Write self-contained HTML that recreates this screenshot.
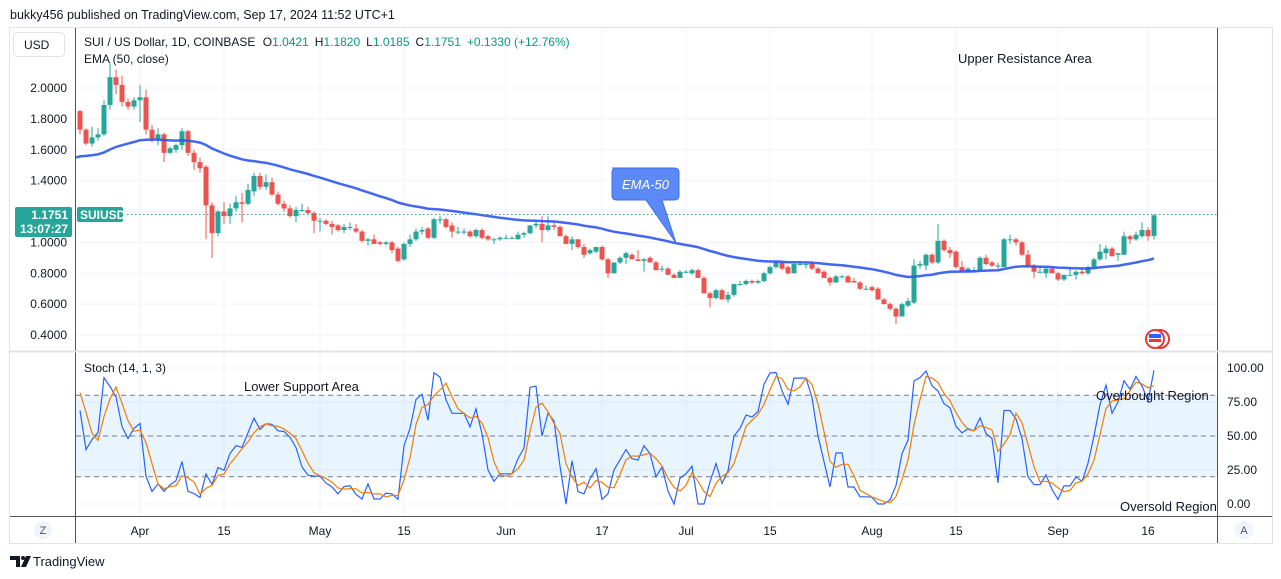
<!DOCTYPE html>
<html><head><meta charset="utf-8">
<style>
html,body{margin:0;padding:0;background:#fff;}
svg{display:block;font-family:"Liberation Sans",sans-serif;}
</style></head>
<body>
<svg id="chart" width="1281" height="579" viewBox="0 0 1281 579" xmlns="http://www.w3.org/2000/svg">
  <text x="10" y="19" font-size="12.5" fill="#131722">bukky456 published on TradingView.com, Sep 17, 2024 11:52 UTC+1</text>
  <rect x="9.5" y="27.5" width="1263" height="516" fill="#fff" stroke="#e0e3eb"/>
  <g id="grid"></g>
  <rect id="stochBand" fill="#2196f3" fill-opacity="0.1"/>
  <g id="stochLevels"></g>
  <g id="candles"></g>
  <path id="ema" fill="none" stroke="#2e57f0" stroke-width="2.5" stroke-opacity="0.9"/>
  <path id="stochK" fill="none" stroke="#2962ff" stroke-width="1.2"/>
  <path id="stochD" fill="none" stroke="#f57c00" stroke-width="1.2"/>
  <line x1="75" y1="214.5" x2="1217" y2="214.5" stroke="#26a69a" stroke-dasharray="1.5,2.5"/>
  <line x1="75.5" y1="28" x2="75.5" y2="543" stroke="#50535e"/>
  <line x1="1217.5" y1="28" x2="1217.5" y2="543" stroke="#50535e"/>
  <line x1="10" y1="351.5" x2="1272" y2="351.5" stroke="#e0e3eb" stroke-width="2"/>
  <line x1="10" y1="516.5" x2="1272" y2="516.5" stroke="#50535e"/>
  <g id="priceLabels" font-size="12" fill="#131722" text-anchor="end"></g>
  <g id="stochLabels" font-size="12" fill="#131722"></g>
  <g id="timeLabels" font-size="12" fill="#131722" text-anchor="middle"></g>

  <rect x="13.5" y="32.5" width="51" height="24" rx="4" fill="#fff" stroke="#e0e3eb"/>
  <text x="24" y="49" font-size="12" fill="#131722">USD</text>
  <text x="84" y="46" font-size="12" fill="#131722">SUI / US Dollar, 1D, COINBASE <tspan dx="4">O</tspan><tspan fill="#089981">1.0421</tspan><tspan dx="6">H</tspan><tspan fill="#089981">1.1820</tspan><tspan dx="6">L</tspan><tspan fill="#089981">1.0185</tspan><tspan dx="6">C</tspan><tspan fill="#089981">1.1751</tspan><tspan dx="6" fill="#089981">+0.1330 (+12.76%)</tspan></text>
  <text x="84" y="63" font-size="12" fill="#131722">EMA (50, close)</text>
  <text x="84" y="372" font-size="12" fill="#131722">Stoch (14, 1, 3)</text>

  <rect x="15" y="207" width="57" height="30" rx="2" fill="#26a69a"/>
  <text x="68" y="219" font-size="12" font-weight="bold" fill="#fff" text-anchor="end">1.1751</text>
  <text x="68" y="233" font-size="12" font-weight="bold" fill="#fff" text-anchor="end">13:07:27</text>
  <rect x="77" y="207" width="46" height="15" rx="2" fill="#26a69a"/>
  <text x="80" y="219" font-size="12" font-weight="bold" fill="#fff">SUIUSD</text>

  <path d="M612,168 H674 Q679,168 679,173 V195 Q679,200 674,200 H662 L676,243 L646,200 H617 Q612,200 612,195 V173 Q612,168 617,168 Z" fill="#5b8af7" stroke="#3d6ee8"/>
  <text x="645.5" y="189" font-size="13" font-style="italic" fill="#fff" text-anchor="middle">EMA-50</text>

  <text x="958" y="63" font-size="13" fill="#131722">Upper Resistance Area</text>
  <text x="244" y="391" font-size="13" fill="#131722">Lower Support Area</text>
  <text x="1096" y="400" font-size="13" fill="#131722">Overbought Region</text>
  <text x="1120" y="511" font-size="13" fill="#131722">Oversold Region</text>

  <g>
    <circle cx="1160" cy="339" r="9" fill="#fff" stroke="#e53935" stroke-width="2"/>
    <circle cx="1155" cy="339" r="9" fill="#fff" stroke="#e53935" stroke-width="2"/>
    <rect x="1149" y="334" width="12" height="4" fill="#2962ff"/>
    <rect x="1149" y="339" width="12" height="3" fill="#e53935"/>
  </g>

  <circle cx="43" cy="530" r="9" fill="#f0f3fa"/>
  <text x="43" y="534" font-size="11" fill="#50535e" text-anchor="middle">Z</text>
  <circle cx="1244" cy="530" r="9" fill="#f0f3fa"/>
  <text x="1244" y="534" font-size="11" fill="#50535e" text-anchor="middle">A</text>

  <g>
    <path d="M10,556 H20 V567 H16 V560 H10 Z" fill="#131722"/>
    <circle cx="23" cy="558" r="2" fill="#131722"/>
    <path d="M26,556 H31 L26,567 H21 Z" fill="#131722"/>
    <text x="33" y="566" font-size="13" fill="#131722">TradingView</text>
  </g>
</svg>
<script>
// Off-screen history (Mar 9 - Mar 21) used only for indicator warm-up
const priorCandles = [
[1.45,1.52,1.40,1.50],[1.50,1.60,1.48,1.58],[1.58,1.62,1.50,1.55],[1.55,1.70,1.54,1.68],[1.68,1.75,1.60,1.62],
[1.62,1.66,1.52,1.56],[1.56,1.64,1.50,1.60],[1.60,1.72,1.58,1.70],[1.70,1.80,1.66,1.78],[1.78,1.88,1.74,1.84],
[1.84,1.86,1.72,1.76],[1.76,1.82,1.70,1.80],[1.80,1.87,1.78,1.85]
];
// OHLC data, daily from Mar 22 2024 to Sep 17 2024
const candleData = [
[1.85,1.86,1.70,1.73],[1.73,1.74,1.63,1.64],[1.64,1.75,1.62,1.68],[1.68,1.74,1.66,1.70],[1.70,1.92,1.69,1.89],
[1.89,2.16,1.86,2.07],[2.07,2.12,1.96,2.02],[2.02,2.08,1.88,1.91],[1.91,1.93,1.86,1.88],[1.88,1.94,1.86,1.92],
[1.92,2.02,1.78,1.94],[1.94,1.99,1.70,1.73],[1.73,1.76,1.65,1.67],[1.67,1.74,1.63,1.70],[1.70,1.71,1.52,1.58],
[1.58,1.62,1.57,1.61],[1.60,1.64,1.58,1.63],[1.63,1.74,1.60,1.72],[1.72,1.73,1.56,1.58],[1.58,1.60,1.47,1.52],
[1.52,1.55,1.45,1.48],[1.49,1.50,1.02,1.24],[1.24,1.26,0.90,1.06],[1.06,1.21,1.04,1.20],[1.20,1.26,1.12,1.17],
[1.17,1.25,1.12,1.22],[1.22,1.30,1.20,1.26],[1.26,1.32,1.13,1.25],[1.25,1.38,1.24,1.34],[1.33,1.45,1.30,1.43],
[1.43,1.45,1.34,1.36],[1.36,1.44,1.34,1.39],[1.39,1.42,1.30,1.31],[1.31,1.33,1.24,1.25],[1.25,1.27,1.20,1.22],
[1.22,1.24,1.16,1.17],[1.17,1.23,1.13,1.21],[1.21,1.25,1.20,1.21],[1.21,1.23,1.18,1.19],[1.19,1.20,1.06,1.14],
[1.14,1.16,1.07,1.14],[1.14,1.15,1.11,1.12],[1.12,1.14,1.05,1.10],[1.11,1.12,1.07,1.08],[1.08,1.12,1.06,1.10],
[1.10,1.13,1.08,1.10],[1.09,1.12,1.06,1.07],[1.07,1.08,1.00,1.01],[1.01,1.03,0.98,1.02],[1.02,1.05,0.99,0.99],
[1.00,1.01,0.98,0.99],[0.99,1.01,0.98,1.00],[1.00,1.01,0.93,0.95],[0.96,0.97,0.87,0.88],[0.89,1.00,0.88,0.99],
[0.99,1.05,0.97,1.02],[1.02,1.09,1.01,1.07],
[1.07,1.10,1.05,1.08],[1.09,1.10,1.02,1.03],[1.03,1.16,1.02,1.15],[1.15,1.17,1.12,1.15],[1.15,1.16,1.09,1.10],
[1.11,1.13,1.03,1.07],[1.07,1.10,1.05,1.07],[1.07,1.09,1.05,1.07],[1.07,1.08,1.03,1.04],[1.04,1.09,1.03,1.08],
[1.08,1.09,1.02,1.03],[1.04,1.05,1.01,1.02],[1.02,1.03,0.99,1.02],[1.02,1.04,1.01,1.03],[1.03,1.05,1.02,1.03],
[1.03,1.04,1.02,1.03],[1.02,1.07,1.02,1.05],[1.05,1.07,1.03,1.06],[1.06,1.11,1.05,1.11],[1.11,1.14,1.09,1.12],
[1.12,1.17,1.00,1.08],[1.08,1.17,1.07,1.11],[1.11,1.13,1.08,1.10],[1.10,1.11,1.04,1.04],[1.04,1.05,0.99,0.99],
[0.99,1.04,0.95,1.02],[1.02,1.02,0.96,0.97],[0.97,0.99,0.90,0.92],[0.93,0.96,0.92,0.95],[0.94,0.97,0.93,0.97],
[0.97,0.98,0.88,0.89],[0.89,0.90,0.77,0.80],[0.80,0.87,0.80,0.87],[0.87,0.91,0.86,0.90],[0.90,0.94,0.86,0.93],
[0.92,0.93,0.89,0.89],[0.89,0.95,0.88,0.88],[0.88,0.90,0.81,0.89],[0.90,0.91,0.87,0.87],[0.87,0.88,0.82,0.82],
[0.83,0.85,0.81,0.83],[0.83,0.84,0.79,0.79],[0.79,0.80,0.77,0.77],[0.77,0.82,0.77,0.81],[0.81,0.82,0.80,0.81],
[0.80,0.83,0.79,0.82],[0.82,0.83,0.77,0.77],[0.77,0.78,0.67,0.67],[0.67,0.68,0.58,0.64],[0.64,0.70,0.63,0.69],
[0.69,0.70,0.63,0.63],[0.63,0.68,0.61,0.66],[0.66,0.73,0.65,0.73],[0.73,0.75,0.72,0.73],[0.73,0.76,0.72,0.75],
[0.75,0.76,0.73,0.74],[0.74,0.76,0.73,0.75],[0.75,0.81,0.74,0.80],[0.80,0.85,0.79,0.84],[0.84,0.88,0.83,0.87],
[0.87,0.88,0.82,0.83],[0.84,0.85,0.79,0.80],
[0.80,0.87,0.80,0.86],[0.86,0.88,0.85,0.86],[0.86,0.87,0.83,0.86],[0.86,0.88,0.82,0.83],[0.83,0.84,0.80,0.80],
[0.81,0.82,0.77,0.77],[0.77,0.78,0.72,0.74],[0.74,0.79,0.74,0.78],[0.78,0.79,0.77,0.78],[0.78,0.79,0.74,0.74],
[0.75,0.77,0.74,0.74],[0.74,0.75,0.69,0.70],[0.70,0.72,0.69,0.70],[0.71,0.72,0.68,0.69],[0.70,0.71,0.63,0.63],
[0.63,0.64,0.60,0.60],[0.60,0.61,0.56,0.57],[0.57,0.58,0.47,0.52],[0.52,0.61,0.52,0.60],[0.59,0.64,0.58,0.62],
[0.61,0.89,0.60,0.85],[0.85,0.88,0.83,0.86],[0.85,0.93,0.82,0.92],[0.92,0.93,0.86,0.87],[0.87,1.12,0.86,1.01],
[1.01,1.02,0.94,0.95],[0.95,0.97,0.90,0.93],[0.94,0.95,0.83,0.84],[0.84,0.88,0.81,0.81],[0.81,0.84,0.80,0.83],
[0.82,0.84,0.81,0.82],[0.82,0.91,0.82,0.90],[0.90,0.92,0.85,0.86],[0.87,0.88,0.84,0.85],[0.85,0.87,0.83,0.85],
[0.84,1.03,0.84,1.02],[1.02,1.05,0.99,1.02],[1.02,1.03,0.98,1.00],[1.00,1.01,0.91,0.92],[0.92,0.95,0.84,0.85],
[0.85,0.86,0.77,0.81],[0.81,0.85,0.80,0.81],[0.80,0.84,0.77,0.83],[0.83,0.84,0.80,0.80],[0.80,0.81,0.75,0.76],
[0.76,0.79,0.75,0.79],[0.79,0.84,0.79,0.79],[0.79,0.82,0.76,0.81],[0.81,0.84,0.79,0.80],[0.80,0.85,0.79,0.84],
[0.84,0.90,0.83,0.89],[0.89,0.99,0.88,0.94],[0.93,0.98,0.89,0.96],[0.96,0.97,0.91,0.91],[0.92,0.93,0.88,0.93],
[0.92,1.07,0.92,1.04],[1.04,1.05,0.99,1.02],[1.02,1.07,1.01,1.05],[1.04,1.13,1.03,1.08],[1.08,1.10,1.01,1.04],
[1.0421,1.182,1.0185,1.1751]
];
const emaSeed = 1.55;
const priceTicks = [2.0, 1.8, 1.6, 1.4, 1.2, 1.0, 0.8, 0.6, 0.4];
const priceTickLabels = ["2.0000","1.8000","1.6000","1.4000","","1.0000","0.8000","0.6000","0.4000"];
const stochTicks = [100, 75, 50, 25, 0];
const stochTickLabels = ["100.00","75.00","50.00","25.00","0.00"];
const stochLevelValues = [80, 50, 20];
const timeTickDays = [10, 24, 40, 54, 71, 87, 101, 115, 132, 146, 163, 178];
const timeTickLabels = ["Apr","15","May","15","Jun","17","Jul","15","Aug","15","Sep","16"];

const NS = "http://www.w3.org/2000/svg";
const xOf = i => 80 + i * 6;
const yP = p => 88 + (2.0 - p) * 154.4;
const yS = v => 504 - v * 1.36;
function mk(tag, attrs, parent){ const e=document.createElementNS(NS,tag); for(const k in attrs) e.setAttribute(k,attrs[k]); parent.appendChild(e); return e; }

const grid = document.getElementById('grid');
priceTicks.forEach((p,i)=>{
  const l = mk('line',{x1:76,x2:1217,y1:yP(p),y2:yP(p),stroke:'#f0f3fa'},grid);
  
  
  if(priceTickLabels[i]){
    const t = mk('text',{x:67,y:yP(p)+4},document.getElementById('priceLabels'));
    t.textContent = priceTickLabels[i];
    
    
  }
});
stochTicks.forEach((v,i)=>{
  const l = mk('line',{x1:76,x2:1217,y1:yS(v),y2:yS(v),stroke:'#f0f3fa'},grid);
  
  
  const t = mk('text',{x:1227,y:yS(v)+4},document.getElementById('stochLabels'));
  t.textContent = stochTickLabels[i];
  
  
});
timeTickDays.forEach((d,i)=>{
  const x = xOf(d);
  const l = mk('line',{x1:x,x2:x,y1:28,y2:516,stroke:'#f0f3fa'},grid);
  
  
  const t = mk('text',{x:x,y:535},document.getElementById('timeLabels'));
  t.textContent = timeTickLabels[i];
  
  
});

const band = document.getElementById('stochBand');
band.setAttribute('x',76); band.setAttribute('width',1141);
band.setAttribute('y',yS(80)); band.setAttribute('height',yS(20)-yS(80));
const lv = document.getElementById('stochLevels');
stochLevelValues.forEach(v=>{
  const l = mk('line',{x1:76,x2:1217,y1:yS(v),y2:yS(v),stroke:'#787b86','stroke-dasharray':'5,4'},lv);
  
  
});

const cg = document.getElementById('candles');
candleData.forEach((c,i)=>{
  const [o,h,l,cl] = c;
  const col = cl >= o ? '#26a69a' : '#ef5350';
  const x = xOf(i);
  const w = mk('line',{x1:x,x2:x,y1:yP(h),y2:yP(l),stroke:col,'stroke-width':1},cg);
  
  
  const top = yP(Math.max(o,cl)), bot = yP(Math.min(o,cl));
  const b = mk('rect',{x:x-2.5,y:top,width:5,height:Math.max(1,bot-top),fill:col},cg);
  
  
});

// EMA 50
let e = emaSeed; const a = 2/51; let d = 'M76,'+yP(e).toFixed(1);
candleData.forEach((c,i)=>{ e = e + a*(c[3]-e); d += ' L'+xOf(i)+','+yP(e).toFixed(1); });
document.getElementById('ema').setAttribute('d',d);

// Stochastic (14,1,3) with warm-up history
const all = priorCandles.concat(candleData);
const Kall = all.map((c,i)=>{
  const s = all.slice(Math.max(0,i-13),i+1);
  const hh = Math.max(...s.map(q=>q[1])), ll = Math.min(...s.map(q=>q[2]));
  return hh===ll ? 50 : (c[3]-ll)/(hh-ll)*100;
});
const Dall = Kall.map((k,i)=>{ const s=Kall.slice(Math.max(0,i-2),i+1); return s.reduce((p,q)=>p+q,0)/s.length; });
const off = priorCandles.length;
const K = Kall.slice(off), D = Dall.slice(off);
document.getElementById('stochK').setAttribute('d', K.map((k,i)=>(i?'L':'M')+xOf(i)+','+yS(k).toFixed(1)).join(' '));
document.getElementById('stochD').setAttribute('d', D.map((k,i)=>(i?'L':'M')+xOf(i)+','+yS(k).toFixed(1)).join(' '));
</script>
</body></html>
